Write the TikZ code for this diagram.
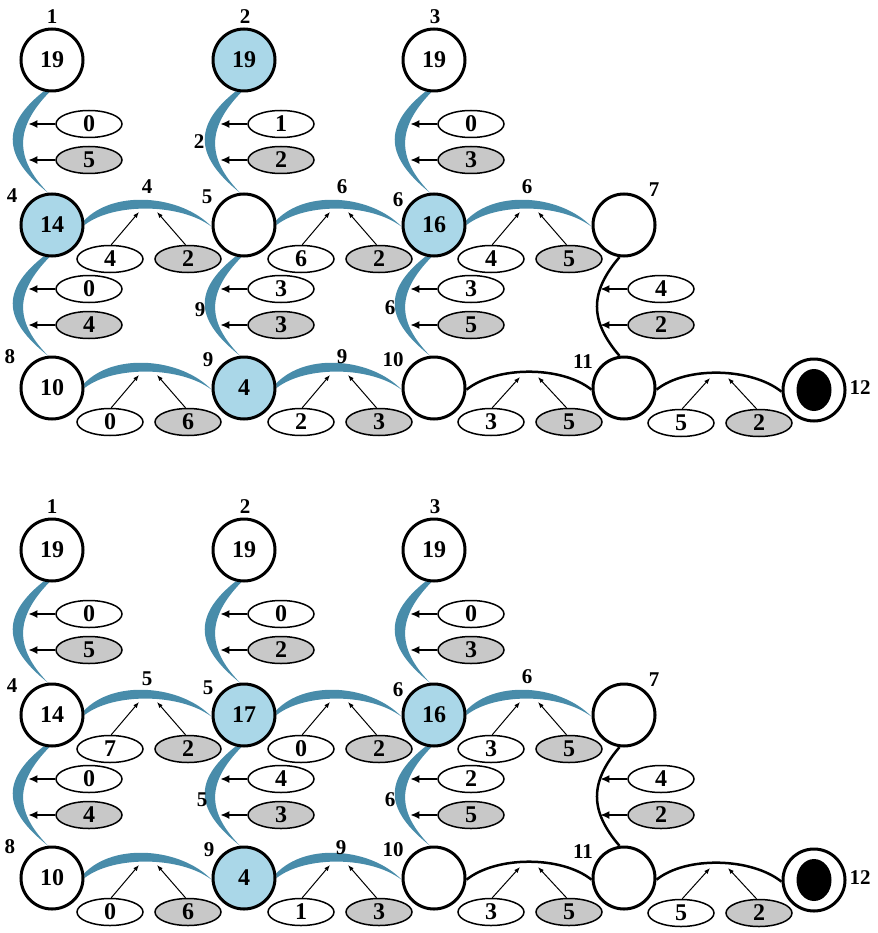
\documentclass[tikz,border=0pt]{standalone}
\usepackage{fontspec}
\setmainfont{Liberation Serif}
\usetikzlibrary{shapes.geometric,arrows.meta,backgrounds}
\definecolor{arcblue}{RGB}{72,140,170}
\definecolor{nodeblue}{RGB}{170,215,232}
\definecolor{elgrey}{RGB}{200,200,200}
\tikzset{
 nd/.style={circle,draw,line width=3pt,minimum size=62pt,inner sep=0pt,fill=white,font=\fontsize{24}{24}\selectfont\bfseries},
 bnd/.style={nd,fill=nodeblue},
 wel/.style={ellipse,draw,line width=1.5pt,minimum width=66pt,minimum height=27pt,inner sep=0pt,fill=white,font=\fontsize{24}{24}\selectfont\bfseries},
 gel/.style={wel,fill=elgrey},
 lbl/.style={inner sep=0pt,font=\fontsize{21}{21}\selectfont\bfseries},
 varr/.style={line width=1.8pt,-{Latex[length=9pt,width=8pt]}},
 harr/.style={line width=1pt,-{Latex[length=6pt,width=4.5pt]}},
 blk/.style={line width=2.5pt},
 endin/.style={ellipse,fill=black,minimum width=35pt,minimum height=42pt,inner sep=0pt},
}
\newcommand\vblue[2]{\fill[arcblue] (#1.255) .. controls +(-44,35) and +(-44,-35) .. (#2.97) .. controls +(-34,-35) and +(-34,35) .. (#1.265) -- cycle;}
\newcommand\vblack[2]{\draw[blk] (#1.262) .. controls +(-30,35) and +(-30,-35) .. (#2.98);}
\newcommand\hblue[2]{\fill[arcblue] (#1.8) .. controls +(30,-31.5) and +(-30,-31.5) .. (#2.183) .. controls +(-30,-23) and +(30,-23) .. (#1.0) -- cycle;}
\newcommand\hblack[2]{\draw[blk] (#1.357) .. controls +(30,-24) and +(-30,-24) .. (#2.183);}
\newcommand\vpair[4]{%
 \node[wel] (#2w) at ([shift={(37,64)}]#1.center) {#3};
 \node[gel] (#2g) at ([shift={(37,100)}]#1.center) {#4};
 \draw[varr] (#2w.west) -- ++(-27,0);
 \draw[varr] (#2g.west) -- ++(-27,0);}
\newcommand\hpair[6]{%
 \path (#1.center) -- (#2.center) coordinate[pos=.5] (#3m);
 \node[wel] (#3w) at ([shift={(-38,34)}]#3m) {#4};
 \node[gel] (#3g) at ([shift={(40,34)}]#3m) {#5};
 \coordinate (#3a) at ([shift={(-9,#6)}]#3m);
 \coordinate (#3b) at ([shift={(9,#6)}]#3m);
 \draw[harr] (#3w.85) -- (#3a);
 \draw[harr] (#3g.100) -- (#3b);}
\begin{document}
\begin{tikzpicture}[x=1pt,y=-1pt]
\useasboundingbox (0,0) rectangle (877,933);
% ===== top diagram =====
\node[nd]  (a1) at (52,60) {19};
\node[bnd] (a2) at (244,60) {19};
\node[nd]  (a3) at (434,60) {19};
\node[bnd] (a4) at (52,225) {14};
\node[nd]  (a5) at (244,225) {};
\node[bnd] (a6) at (434,225) {16};
\node[nd]  (a7) at (624,225) {};
\node[nd]  (a8) at (52,388) {10};
\node[bnd] (a9) at (244,388) {4};
\node[nd]  (a10) at (434,388) {};
\node[nd]  (a11) at (624,388) {};
\node[nd]  (a12) at (814,390) {};
\node[endin] (a12i) at (a12.center) {};
\begin{scope}[on background layer]
\vblue{a1}{a4} \vblue{a2}{a5} \vblue{a3}{a6}
\vblue{a4}{a8} \vblue{a5}{a9} \vblue{a6}{a10}
\vblack{a7}{a11}
\hblue{a4}{a5} \hblue{a5}{a6} \hblue{a6}{a7}
\hblue{a8}{a9} \hblue{a9}{a10}
\hblack{a10}{a11} \hblack{a11}{a12}
\end{scope}
\vpair{a1}{pa14}{0}{5}
\vpair{a2}{pa25}{1}{2}
\vpair{a3}{pa36}{0}{3}
\vpair{a4}{pa48}{0}{4}
\vpair{a5}{pa59}{3}{3}
\vpair{a6}{pa610}{3}{5}
\vpair{a7}{pa711}{4}{2}
\hpair{a4}{a5}{qa45}{4}{2}{-13}
\hpair{a5}{a6}{qa56}{6}{2}{-13}
\hpair{a6}{a7}{qa67}{4}{5}{-13}
\hpair{a8}{a9}{qa89}{0}{6}{-13}
\hpair{a9}{a10}{qa910}{2}{3}{-13}
\hpair{a10}{a11}{qa1011}{3}{5}{-11}
\hpair{a11}{a12}{qa1112}{5}{2}{-11}
\node[lbl] (la1) at (52,17) {1};
\node[lbl] (la2) at (245,17) {2};
\node[lbl] (la3) at (435,17) {3};
\node[lbl] (la4) at (12,196) {4};
\node[lbl] (la5) at (207,197) {5};
\node[lbl] (la6) at (398,200) {6};
\node[lbl] (la7) at (654,190) {7};
\node[lbl] (la8) at (10,357) {8};
\node[lbl] (la9) at (208,360) {9};
\node[lbl] (la10) at (393,360) {10};
\node[lbl] (la11) at (583,362) {11};
\node[lbl] (la12) at (860,388) {12};
\node[lbl] (ea45) at (147,187) {4};
\node[lbl] (ea56) at (342,187) {6};
\node[lbl] (ea67) at (527,187) {6};
\node[lbl] (ea25) at (199,142) {2};
\node[lbl] (ea59) at (200,310) {9};
\node[lbl] (ea610) at (390,308) {6};
\node[lbl] (ea910) at (342,357) {9};
% ===== bottom diagram =====
\node[nd]  (b1) at (52,550) {19};
\node[nd]  (b2) at (244,550) {19};
\node[nd]  (b3) at (434,550) {19};
\node[nd]  (b4) at (52,715) {14};
\node[bnd] (b5) at (244,715) {17};
\node[bnd] (b6) at (434,715) {16};
\node[nd]  (b7) at (624,715) {};
\node[nd]  (b8) at (52,878) {10};
\node[bnd] (b9) at (244,878) {4};
\node[nd]  (b10) at (434,878) {};
\node[nd]  (b11) at (624,878) {};
\node[nd]  (b12) at (814,880) {};
\node[endin] (b12i) at (b12.center) {};
\begin{scope}[on background layer]
\vblue{b1}{b4} \vblue{b2}{b5} \vblue{b3}{b6}
\vblue{b4}{b8} \vblue{b5}{b9} \vblue{b6}{b10}
\vblack{b7}{b11}
\hblue{b4}{b5} \hblue{b5}{b6} \hblue{b6}{b7}
\hblue{b8}{b9} \hblue{b9}{b10}
\hblack{b10}{b11} \hblack{b11}{b12}
\end{scope}
\vpair{b1}{pb14}{0}{5}
\vpair{b2}{pb25}{0}{2}
\vpair{b3}{pb36}{0}{3}
\vpair{b4}{pb48}{0}{4}
\vpair{b5}{pb59}{4}{3}
\vpair{b6}{pb610}{2}{5}
\vpair{b7}{pb711}{4}{2}
\hpair{b4}{b5}{qb45}{7}{2}{-13}
\hpair{b5}{b6}{qb56}{0}{2}{-13}
\hpair{b6}{b7}{qb67}{3}{5}{-13}
\hpair{b8}{b9}{qb89}{0}{6}{-13}
\hpair{b9}{b10}{qb910}{1}{3}{-13}
\hpair{b10}{b11}{qb1011}{3}{5}{-11}
\hpair{b11}{b12}{qb1112}{5}{2}{-11}
\node[lbl] (lb1) at (52,507) {1};
\node[lbl] (lb2) at (245,507) {2};
\node[lbl] (lb3) at (435,507) {3};
\node[lbl] (lb4) at (12,686) {4};
\node[lbl] (lb5) at (208,688) {5};
\node[lbl] (lb6) at (398,690) {6};
\node[lbl] (lb7) at (654,680) {7};
\node[lbl] (lb8) at (10,847) {8};
\node[lbl] (lb9) at (209,850) {9};
\node[lbl] (lb10) at (393,850) {10};
\node[lbl] (lb11) at (583,852) {11};
\node[lbl] (lb12) at (860,878) {12};
\node[lbl] (eb45) at (147,679) {5};
\node[lbl] (eb67) at (527,677) {6};
\node[lbl] (eb59) at (202,800) {5};
\node[lbl] (eb610) at (390,800) {6};
\node[lbl] (eb910) at (341,848) {9};
\end{tikzpicture}
\end{document}
